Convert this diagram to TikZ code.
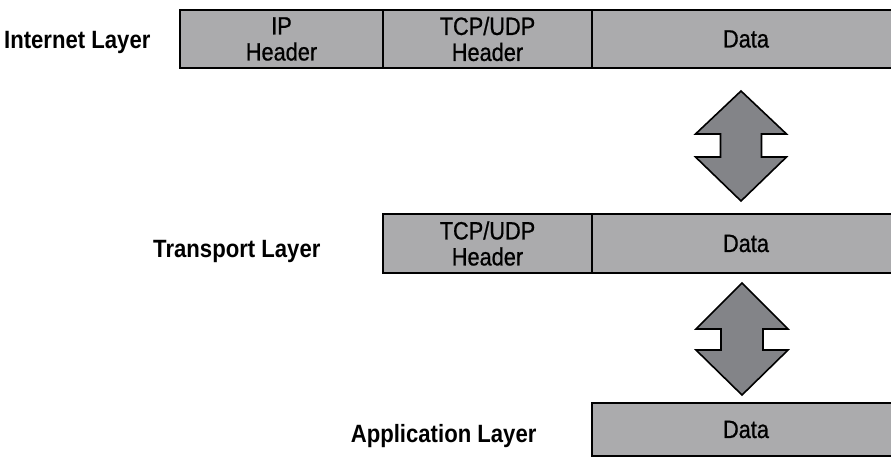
\documentclass[tikz,border=0pt]{standalone}
\usepackage{fontspec}
\newfontfamily\condfont{Liberation Sans}[FakeStretch=0.885]
\newfontfamily\medfont{Liberation Sans}[FakeStretch=0.87, FakeBold=0.7]
\usetikzlibrary{positioning}
\definecolor{fieldgray}{RGB}{171,171,173}
\definecolor{arrowgray}{RGB}{131,132,136}
\tikzset{
  field/.style={draw, line width=2.4pt, fill=fieldgray, outer sep=0pt, inner sep=0pt,
    minimum height=58pt, align=center, font=\medfont\fontsize{25}{26}\selectfont},
  layer/.style={font=\condfont\bfseries\fontsize{25}{26}\selectfont},
  swaparrow/.style={draw, line width=1.6pt, fill=arrowgray, line join=miter},
}
\begin{document}
\begin{tikzpicture}[x=1pt, y=-1pt]
\useasboundingbox (0,0) rectangle (891,458);
% Internet layer
\node[field, minimum width=203pt, anchor=north west] (ip) at (180,10) {IP\\Header};
\node[field, minimum width=209pt, right=0pt of ip] (tcpa) {TCP/UDP\\Header};
\node[field, minimum width=308pt, right=0pt of tcpa] (dataa) {Data};
\node[layer, left=26pt of ip, yshift=-3pt] (inet) {Internet Layer};
% Transport layer
\node[field, minimum width=209pt, minimum height=59pt, anchor=north west] (tcpb) at (383,214) {TCP/UDP\\Header};
\node[field, minimum width=308pt, minimum height=59pt, right=0pt of tcpb] (datab) {Data};
\node[layer, left=59pt of tcpb, yshift=-8pt] (trans) {Transport Layer};
% Application layer
\node[field, minimum width=308pt, minimum height=53pt, anchor=north west] (datac) at (592,403) {Data};
\node[layer, left=52pt of datac, yshift=-7pt] (app) {Application Layer};
% up/down arrows
\draw[swaparrow] (741,91) -- ++(45.5,43) -- ++(-25,0) -- ++(0,23) -- ++(25,0) -- ++(-45.5,44)
  -- ++(-45.5,-44) -- ++(25,0) -- ++(0,-23) -- ++(-25,0) -- cycle;
\draw[swaparrow] (742,283) -- ++(46,46) -- ++(-25,0) -- ++(0,21) -- ++(25,0) -- ++(-46,45)
  -- ++(-46,-45) -- ++(25,0) -- ++(0,-21) -- ++(-25,0) -- cycle;
\end{tikzpicture}
\end{document}
